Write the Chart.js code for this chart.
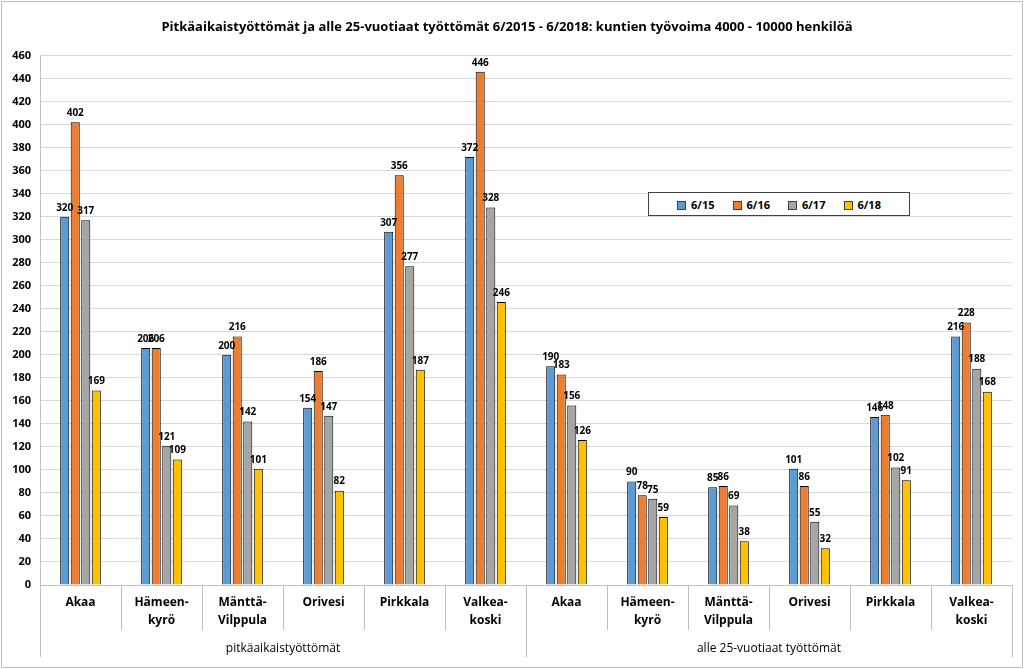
<!DOCTYPE html>
<html>
<head>
<meta charset="utf-8">
<script src="https://cdn.jsdelivr.net/npm/chart.js@4/dist/chart.umd.min.js"></script>
<style>
    html, body { margin: 0; padding: 0; background: #fff; }
    #wrap { position: absolute; left: 0; top: 0; width: 1024px; height: 669px; }
    #frame { position: absolute; left: 1px; top: 1px; width: 1020px; height: 665px; border: 1px solid #bfbfbf; pointer-events: none; }
    #legend { position: absolute; left: 648px; top: 192px; border: 1px solid #404040; background: #fff;
        display: flex; align-items: center; justify-content: space-evenly; padding: 0 10px; box-sizing: border-box; width: 262px; height: 24px;
        font: bold 11px 'Open Sans', sans-serif; color: #000; }
    #legend span.sw { display: inline-block; width: 7px; height: 7px; border: 1px solid #404040; margin-right: 5px; vertical-align: middle; }
</style>
</head>
<body>
<div id="wrap">
    <canvas id="myChart" width="1024" height="669"></canvas>
    <div id="frame"></div>
    <div id="legend"></div>
</div>
<script>
const FONT = "'Open Sans', sans-serif";
const towns = ['Akaa', ['Hämeen-', 'kyrö'], ['Mänttä-', 'Vilppula'], 'Orivesi', 'Pirkkala', ['Valkea-', 'koski']];
const labels = towns.concat(towns);
const groups = ['pitkäaikaistyöttömät', 'alle 25-vuotiaat työttömät'];
const seriesNames = ['6/15', '6/16', '6/17', '6/18'];
const colors = ['#5B9BD5', '#ED7D31', '#A5A5A5', '#FFC000'];
const v15 = [320, 206, 200, 154, 307, 372, 190, 90, 85, 101, 146, 216];
const v16 = [402, 206, 216, 186, 356, 446, 183, 78, 86, 86, 148, 228];
const v17 = [317, 121, 142, 147, 277, 328, 156, 75, 69, 55, 102, 188];
const v18 = [169, 109, 101, 82, 187, 246, 126, 59, 38, 32, 91, 168];
const values = [v15, v16, v17, v18];

const data = {
    labels: labels,
    datasets: seriesNames.map((name, i) => ({
        label: name,
        data: values[i],
        backgroundColor: colors[i],
        borderColor: '#000',
        borderWidth: 1,
        categoryPercentage: 0.52,
        barPercentage: 0.86,
    })),
};

// value labels above each bar
const barLabels = {
    id: 'barLabels',
    afterDatasetsDraw(chart) {
        const ctx = chart.ctx;
        ctx.save();
        ctx.font = 'bold 10px ' + FONT;
        ctx.fillStyle = '#000';
        ctx.textAlign = 'center';
        ctx.textBaseline = 'bottom';
        chart.data.datasets.forEach((ds, i) => {
            chart.getDatasetMeta(i).data.forEach((bar, j) => {
                ctx.fillText(ds.data[j], bar.x, bar.y - 4);
            });
        });
        ctx.restore();
    },
};

const config = {
    type: 'bar',
    data: data,
    options: {
        responsive: false,
        animation: false,
        layout: { padding: { left: 2, right: 12, top: 0, bottom: 12 } },
        plugins: {
            legend: { display: false },
            tooltip: { enabled: false },
            title: {
                display: true,
                text: 'Pitkäaikaistyöttömät ja alle 25-vuotiaat työttömät 6/2015 - 6/2018: kuntien työvoima 4000 - 10000 henkilöä',
                color: '#000',
                font: { family: FONT, size: 13, weight: 'bold', lineHeight: 1.2 },
                padding: { top: 19, bottom: 21 },
            },
        },
        scales: {
            x: {
                offset: true,
                grid: { offset: true, drawOnChartArea: false, drawTicks: true, tickLength: 45, color: '#bfbfbf' },
                border: { display: true, color: '#bfbfbf' },
                ticks: { autoSkip: false, maxRotation: 0, padding: -36, color: '#000',
                    font: { family: FONT, size: 12, weight: 'bold', lineHeight: 1.5 } },
                afterFit: (scale) => { scale.height = 45; },
            },
            x2: {
                type: 'category',
                labels: groups,
                position: 'bottom',
                offset: true,
                grid: { offset: true, drawOnChartArea: false, drawTicks: true, tickLength: 27, color: '#bfbfbf' },
                border: { display: false },
                ticks: { autoSkip: false, maxRotation: 0, padding: -16, color: '#000',
                    font: { family: FONT, size: 12 } },
                afterFit: (scale) => { scale.height = 27; },
            },
            y: {
                min: 0,
                max: 460,
                grid: { color: '#d9d9d9', drawTicks: false },
                border: { display: true, color: '#bfbfbf' },
                ticks: { stepSize: 20, padding: 9, color: '#000',
                    font: { family: FONT, size: 11, weight: 'bold' } },
                afterFit: (scale) => { scale.width = 38; },
            },
        },
    },
    plugins: [barLabels],
};

const myChart = new Chart(document.getElementById('myChart'), config);

// legend box inside the plot
const legendEl = document.getElementById('legend');
seriesNames.forEach((name, i) => {
    const item = document.createElement('div');
    item.innerHTML = '<span class="sw" style="background:' + colors[i] + '"></span>' + name;
    legendEl.appendChild(item);
});
</script>
</body>
</html>
